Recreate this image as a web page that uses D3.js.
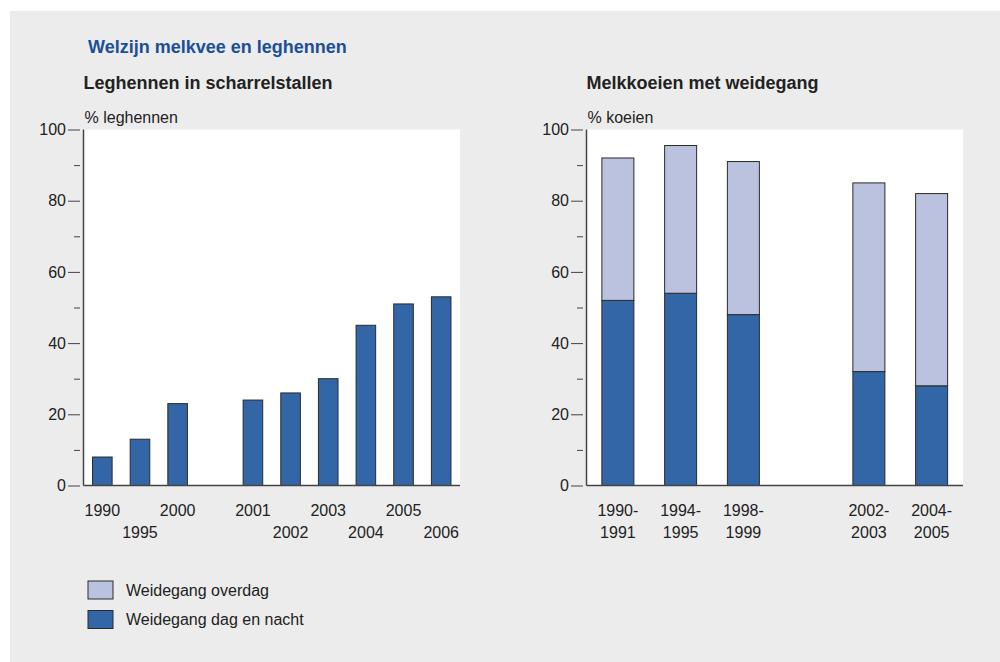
<!DOCTYPE html>
<html>
<head>
<meta charset="utf-8">
<script src="https://cdn.jsdelivr.net/npm/d3@7"></script>
<style>
  html, body { margin: 0; padding: 0; background: #fff; }
  svg { display: block; font-family: "Liberation Sans", Arial, sans-serif; }
</style>
</head>
<body>
<svg id="chart" width="1000" height="662"></svg>
<script>
// leghennen in scharrelstallen
var henYears = ["1990", "1995", "2000", "2001", "2002", "2003", "2004", "2005", "2006"];
var henValues = [8, 13, 23, 24, 26, 30, 45, 51, 53];
var henLabelRow = [0, 1, 0, 0, 1, 0, 1, 0, 1];
var henSlots = ["1990", "1995", "2000", "gap", "2001", "2002", "2003", "2004", "2005", "2006"];

// melkkoeien met weidegang
var cowPeriods = ["1990-1991", "1994-1995", "1998-1999", "2002-2003", "2004-2005"];
var cowDagNacht = [52, 54, 48, 32, 28];
var cowOverdag = [40, 41.5, 43, 53, 54];
var cowSlots = ["1990-1991", "1994-1995", "1998-1999", "gap", "2002-2003", "2004-2005"];

var seriesNames = ["Weidegang dag en nacht", "Weidegang overdag"];
var legendNames = ["Weidegang overdag", "Weidegang dag en nacht"];

var yTicks = [0, 20, 40, 60, 80, 100];
var yMinor = [10, 30, 50, 70, 90];

var darkBlue = "#3366a6";
var lightBlue = "#bbc2e0";
var axisCol = "#444";
var textCol = "#222";

const svg = d3.select("#chart");

// grey panel
svg.append("rect")
    .attr("x", 10).attr("y", 11)
    .attr("width", 990).attr("height", 651)
    .attr("fill", "#ececec");

svg.append("text")
    .attr("x", 88).attr("y", 53)
    .attr("fill", "#1b4f97")
    .attr("font-size", 18).attr("font-weight", "bold")
    .text("Welzijn melkvee en leghennen");

const plotTop = 129.5, plotBottom = 485.5;
const y = d3.scaleLinear().domain([0, 100]).range([plotBottom, plotTop]);

function drawFrame(x0, x1, title, unit) {
    const g = svg.append("g");
    g.append("text")
        .attr("x", x0).attr("y", 89)
        .attr("fill", textCol)
        .attr("font-size", 18).attr("font-weight", "bold")
        .text(title);
    g.append("text")
        .attr("x", x0 + 1).attr("y", 123)
        .attr("fill", textCol)
        .attr("font-size", 16)
        .text(unit);

    g.append("rect")
        .attr("x", x0).attr("y", plotTop)
        .attr("width", x1 - x0).attr("height", plotBottom - plotTop)
        .attr("fill", "#fff");

    // y axis, ticks sit a bit left of the axis line
    const ax = g.append("g")
        .attr("transform", "translate(" + (x0 - 3.5) + ",0)")
        .call(d3.axisLeft(y).tickValues(yTicks).tickSizeInner(12).tickSizeOuter(0).tickPadding(2));
    ax.select(".domain").remove();
    ax.selectAll("line").attr("stroke", axisCol);
    ax.selectAll("text")
        .attr("fill", textCol)
        .attr("font-size", 16)
        .attr("font-family", "Liberation Sans, Arial, sans-serif");

    const axm = g.append("g")
        .attr("transform", "translate(" + (x0 - 3.5) + ",0)")
        .call(d3.axisLeft(y).tickValues(yMinor).tickSize(6).tickFormat(""));
    axm.select(".domain").remove();
    axm.selectAll("line").attr("stroke", axisCol);

    return g;
}

function drawAxisLines(g, x0, x1) {
    g.append("line")
        .attr("x1", x0).attr("x2", x0)
        .attr("y1", plotTop).attr("y2", plotBottom)
        .attr("stroke", axisCol).attr("stroke-width", 1.5);
    g.append("line")
        .attr("x1", x0).attr("x2", x1)
        .attr("y1", plotBottom).attr("y2", plotBottom)
        .attr("stroke", axisCol).attr("stroke-width", 1.5);
}

// ---- left chart ----
var lx0 = 83.5, lx1 = 460;
var gL = drawFrame(lx0, lx1, "Leghennen in scharrelstallen", "% leghennen");

var xL = d3.scaleBand()
    .domain(henSlots)
    .range([lx0, lx1])
    .paddingInner(0.48)
    .paddingOuter(0.24);

gL.selectAll("rect.bar")
    .data(henYears.map((d, i) => ({ year: d, value: henValues[i], row: henLabelRow[i] })))
    .enter().append("rect")
    .attr("class", "bar")
    .attr("x", d => xL(d.year))
    .attr("width", xL.bandwidth())
    .attr("y", d => y(d.value))
    .attr("height", d => y(0) - y(d.value))
    .attr("fill", darkBlue)
    .attr("stroke", "#2a2a2a")
    .attr("stroke-width", 1);

gL.selectAll("text.xlab")
    .data(henYears.map((d, i) => ({ year: d, row: henLabelRow[i] })))
    .enter().append("text")
    .attr("class", "xlab")
    .attr("x", d => xL(d.year) + xL.bandwidth() / 2)
    .attr("y", d => 516 + d.row * 22)
    .attr("text-anchor", "middle")
    .attr("fill", textCol)
    .attr("font-size", 16)
    .text(d => d.year);

drawAxisLines(gL, lx0, lx1);

// ---- right chart ----
var rx0 = 586.5, rx1 = 963;
var gR = drawFrame(rx0, rx1, "Melkkoeien met weidegang", "% koeien");

var xR = d3.scaleBand()
    .domain(cowSlots)
    .range([rx0, rx1])
    .paddingInner(0.49)
    .paddingOuter(0.245);

var cowRows = cowPeriods.map((d, i) => ({
    period: d,
    "Weidegang dag en nacht": cowDagNacht[i],
    "Weidegang overdag": cowOverdag[i]
}));
var stacked = d3.stack().keys(seriesNames)(cowRows);
var color = d3.scaleOrdinal().domain(seriesNames).range([darkBlue, lightBlue]);

gR.selectAll("g.layer")
    .data(stacked)
    .enter().append("g")
    .attr("class", "layer")
    .attr("fill", d => color(d.key))
    .selectAll("rect")
    .data(d => d)
    .enter().append("rect")
    .attr("x", d => xR(d.data.period))
    .attr("width", xR.bandwidth())
    .attr("y", d => y(d[1]))
    .attr("height", d => y(d[0]) - y(d[1]))
    .attr("stroke", "#2a2a2a")
    .attr("stroke-width", 1);

var cl = gR.selectAll("text.xlab")
    .data(cowPeriods)
    .enter().append("text")
    .attr("class", "xlab")
    .attr("text-anchor", "middle")
    .attr("fill", textCol)
    .attr("font-size", 16);
cl.append("tspan")
    .attr("x", d => xR(d) + xR.bandwidth() / 2)
    .attr("y", 516)
    .text(d => d.split("-")[0] + "-");
cl.append("tspan")
    .attr("x", d => xR(d) + xR.bandwidth() / 2)
    .attr("y", 538)
    .text(d => d.split("-")[1]);

drawAxisLines(gR, rx0, rx1);

// ---- legend ----
var lg = svg.append("g").attr("transform", "translate(88,581)");
lg.selectAll("rect")
    .data(legendNames)
    .enter().append("rect")
    .attr("x", 0)
    .attr("y", (d, i) => i * 29.5)
    .attr("width", 25).attr("height", 18)
    .attr("fill", d => color(d))
    .attr("stroke", "#2a2a2a")
    .attr("stroke-width", 1);
lg.selectAll("text")
    .data(legendNames)
    .enter().append("text")
    .attr("x", 38)
    .attr("y", (d, i) => 14.5 + i * 29.5)
    .attr("fill", textCol)
    .attr("font-size", 16)
    .text(d => d);
</script>
</body>
</html>
